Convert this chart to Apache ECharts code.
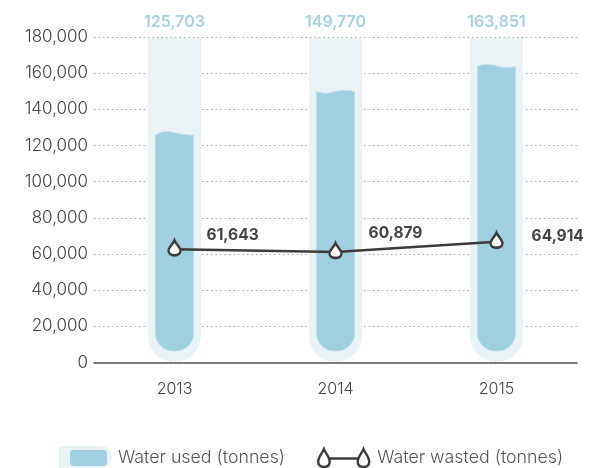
<!DOCTYPE html>
<html><head><meta charset="utf-8">
<style>html,body{margin:0;padding:0;background:#fff}#c{width:595px;height:468px}</style>
<script src="https://cdn.jsdelivr.net/npm/echarts@6/dist/echarts.min.js"></script>
</head><body><div id="c"></div>
<script>
var years = ['2013', '2014', '2015'];
var waterUsed = [125703, 149770, 163851];
var waterWastedLabels = [61643, 60879, 64914];
var waterWastedDrawn = [62600, 61100, 66800];
var axisMax = [180000, 180000, 180000];
var labelShift = [25, 26, 28];
var labelRaise = [-12.5, -17.5, -4];
var FONT = 'Inter, "Open Sans", sans-serif';
var DROP = 'path://M12 0 C14 8 20 14 20 21 C20 26.5 16.5 30 12 30 C7.5 30 4 26.5 4 21 C4 14 10 8 12 0 Z';
var LEGEND_LINE = 'path://M6.5 1 C8 5 12 8 12 13 C12 16.5 9.5 18 6.5 18 C3.5 18 1 16.5 1 13 C1 8 5 5 6.5 1 Z M12 10 L39 10 M44.5 1 C46 5 50 8 50 13 C50 16.5 47.5 18 44.5 18 C41.5 18 39 16.5 39 13 C39 8 43 5 44.5 1 Z';

var chart = echarts.init(document.getElementById('c'), null, {renderer: 'canvas'});

function fmt(v) { return v.toString().replace(/\B(?=(\d{3})+$)/g, ','); }

function renderTube(params, api) {
  var i = api.value(0);
  var top = api.coord([i, api.value(1)]);
  var zero = api.coord([i, 0]);
  var w = 53, r = 26.5, x = top[0] - w / 2, b = zero[1] - 0.5, t = top[1] + 1;
  return {
    type: 'group', children: [
      {type: 'path', shape: {
        pathData: 'M' + x + ' ' + t + 'H' + (x + w) + 'V' + (b - r) +
          'A' + r + ' ' + r + ' 0 0 1 ' + x + ' ' + (b - r) + 'Z'
      }, style: {fill: '#e9f3f6'}},
      {type: 'text', style: {
        text: fmt(waterUsed[i]), x: top[0], y: top[1] - 15, align: 'center', verticalAlign: 'middle',
        fill: '#a5d2e3', font: '600 16px ' + FONT
      }}
    ]
  };
}

function renderWater(params, api) {
  var i = api.value(0);
  var top = api.coord([i, api.value(1)]);
  var zero = api.coord([i, 0]);
  var w = 38.4, r = 18, x = top[0] - w / 2, b = zero[1] - 11.5, t = top[1], xr = x + w;
  function c(a, ay, e, ey, g, gy) {
    return 'C' + (x + a) + ' ' + (t + ay) + ' ' + (x + e) + ' ' + (t + ey) + ' ' + (x + g) + ' ' + (t + gy);
  }
  var wave = i === 1
    ? c(4, 0.6, 7, 2, 11, 1.6) + c(17, 0.6, 23, -1.6, 30, -1.2) + c(33, -1.2, 36, -0.6, 38.4, 0)
    : i === 0
    ? c(3, -2, 6, -3.5, 11, -3.7) + c(18, -3.7, 25, 0, 38.4, 0)
    : c(3, -1, 6, -2, 11, -1.8) + c(18, -1.6, 24, 2, 31, 1.6) + c(34, 1.4, 36, 0.8, 38.4, 0);
  var d = 'M' + x + ' ' + t + wave + 'V' + (b - r) +
    'A' + r + ' ' + r + ' 0 0 1 ' + (xr - r) + ' ' + b + 'H' + (x + r) +
    'A' + r + ' ' + r + ' 0 0 1 ' + x + ' ' + (b - r) + 'Z';
  return {type: 'path', shape: {pathData: d},
    style: {fill: '#a0cfe1', stroke: '#bfe0ea', lineWidth: 0.8}};
}

var legendText = {fontFamily: FONT, fontSize: 17.8, fontWeight: 300, color: '#555'};

chart.setOption({
  animation: false,
  backgroundColor: '#fff',
  grid: {left: 94, right: 18, top: 37, bottom: 105.5, containLabel: false},
  legend: [
    {left: 70, top: 449, padding: 0, itemWidth: 37, itemHeight: 16, selectedMode: false,
      textStyle: Object.assign({padding: [0, 0, 0, 6]}, legendText),
      data: [{name: 'Water used (tonnes)', icon: 'roundRect', itemStyle: {color: '#a0cfe1'}}]},
    {left: 317, top: 448, padding: 0, itemWidth: 51, itemHeight: 18, selectedMode: false,
      textStyle: Object.assign({padding: [0, 0, 0, 3]}, legendText),
      data: [{name: 'Water wasted (tonnes)', icon: LEGEND_LINE, itemStyle: {color: 'rgba(255,255,255,0)', borderColor: '#3d3a3a', borderWidth: 2.4}}]}
  ],
  graphic: [{type: 'rect', z: -1, shape: {x: 59, y: 446, width: 53, height: 22, r: [0, 11, 11, 0]}, style: {fill: '#e9f3f6'}}],
  xAxis: {
    type: 'category', data: years,
    axisLine: {lineStyle: {color: '#555', width: 1.5}},
    axisTick: {show: false},
    axisLabel: {fontFamily: FONT, fontSize: 16, fontWeight: 300, color: '#444', margin: 19}
  },
  yAxis: {
    type: 'value', min: 0, max: 180000, interval: 20000,
    axisLine: {show: false}, axisTick: {show: false},
    axisLabel: {fontFamily: FONT, fontSize: 17, fontWeight: 300, color: '#444', margin: 6, formatter: fmt},
    splitLine: {lineStyle: {type: [1.5, 3], color: '#aaaaaa', width: 1}}
  },
  series: [
    {name: 'Water capacity', type: 'custom', renderItem: renderTube, z: 2,
      encode: {x: 0, y: 1}, data: axisMax.map(function (v, i) { return [i, v]; })},
    {name: 'Water used (tonnes)', type: 'custom', renderItem: renderWater, z: 3,
      encode: {x: 0, y: 1}, itemStyle: {color: '#a0cfe1'},
      data: waterUsed.map(function (v, i) { return [i, v]; })},
    {name: 'Water wasted (tonnes)', type: 'line', z: 4,
      data: waterWastedDrawn.map(function (v, i) {
        return {value: v, label: {offset: [labelShift[i], labelRaise[i]]}};
      }),
      symbol: DROP, symbolSize: [12, 15], symbolOffset: [0, -1.5],
      showSymbol: true,
      lineStyle: {color: '#3d3a3a', width: 2.5},
      itemStyle: {color: '#fff', borderColor: '#3d3a3a', borderWidth: 2.5, opacity: 1},
      label: {show: true, position: 'right', distance: 0,
        formatter: function (p) { return fmt(waterWastedLabels[p.dataIndex]); },
        fontFamily: FONT, fontWeight: 700, fontSize: 15.5, color: '#464343'}}
  ]
});
</script></body></html>
